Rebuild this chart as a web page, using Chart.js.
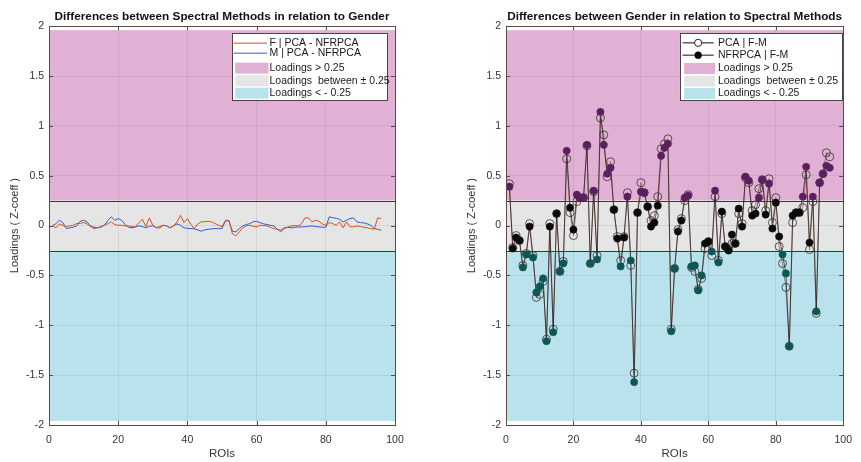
<!DOCTYPE html>
<html>
<head>
<meta charset="utf-8">
<script src="https://cdn.jsdelivr.net/npm/chart.js@4.4.1/dist/chart.umd.min.js"></script>
<style>
  html, body { margin: 0; padding: 0; background: #fff; }
  #wrap { position: relative; width: 861px; height: 462px; }
  canvas { position: absolute; top: 0; }
</style>
</head>
<body>
<div id="wrap">
  <canvas id="leftChart" width="430" height="462" style="left:0"></canvas>
  <canvas id="rightChart" width="431" height="462" style="left:430px"></canvas>
</div>
<script>
// ---- data ----
const xTicks = [0, 20, 40, 60, 80, 100];
const yTicks = [-2, -1.5, -1, -0.5, 0, 0.5, 1, 1.5, 2];
const threshold = 0.25;
const bandLimit = 1.96;

// left panel: PCA - NFRPCA difference per gender
const femaleDiff = [0.003, -0.023, 0.017, 0.003, -0.01, -0.003, 0.003, 0.02, 0.023, 0.03,
  0.017, -0.01, -0.03, -0.023, -0.017, 0.003, 0.02, 0.037, 0.01, 0.003,
  0.003, -0.003, -0.003, -0.01, -0.013, 0.03, 0.063, -0.01, 0.077, 0.003,
  -0.023, -0.01, 0.003, -0.003, -0.023, -0.003, 0.037, 0.103, 0.03, 0.07,
  0.01, -0.03, 0.017, 0.037, 0.04, 0.043, 0.037, 0.02, 0.003, -0.013,
  0.053, 0.053, -0.08, -0.103, -0.063, -0.023, -0.003, 0.003, -0.007, -0.013,
  0.003, 0, -0.003, -0.017, -0.03, -0.037, -0.063, -0.03, -0.017, -0.003,
  0, -0.003, 0.02, 0.077, 0.077, 0.037, 0.053, 0.043, 0.017, 0.003,
  0.03, 0.02, 0.003, 0.037, -0.023, 0.037, -0.013, -0.013, -0.003, -0.01,
  -0.017, -0.023, -0.03, -0.037, 0.077, 0.07];
const maleDiff = [-0.003, 0.02, 0.053, 0.03, -0.03, -0.023, -0.017, -0.003, 0.043, 0.053,
  0.037, -0.003, -0.017, -0.023, -0.01, 0.003, 0.053, 0.087, 0.053, 0.07,
  0.053, 0.01, -0.017, -0.023, -0.013, -0.003, -0.01, -0.023, -0.007, -0.003,
  -0.02, -0.023, 0.003, -0.003, -0.023, -0.003, 0.017, 0.003, -0.023, -0.027,
  -0.03, -0.033, -0.043, -0.057, -0.043, -0.037, -0.033, -0.03, -0.03, -0.03,
  0.047, 0.047, -0.057, -0.063, -0.03, -0.003, 0.01, 0.02, 0.037, 0.043,
  0.03, 0.017, 0.01, 0.003, -0.003, -0.037, -0.047, -0.023, -0.017, -0.023,
  -0.017, -0.013, -0.013, -0.013, -0.007, -0.003, -0.01, -0.013, -0.017, -0.017,
  0.087, 0.08, 0.073, 0.063, 0.037, 0.053, 0.07, 0.077, 0.037, 0.03,
  0.027, 0.017, 0.003, -0.03, -0.037, -0.047];

// right panel: F - M difference per spectral method
const pcaFM = [0.42, -0.22, -0.10, -0.15, -0.40, -0.28, 0.02, -0.30, -0.72, -0.69,
  -0.56, -1.14, 0.02, -1.04, 0.12, -0.46, -0.36, 0.67, 0.13, -0.10,
  0.24, 0.28, 0.28, 0.80, -0.38, 0.34, -0.30, 1.08, 0.91, 0.49,
  0.64, 0.16, -0.11, -0.35, -0.11, 0.33, -0.40, -1.48, 0.13, 0.43,
  0.33, 0.19, 0.05, 0.10, 0.29, 0.77, 0.82, 0.87, -1.04, -0.43,
  -0.04, 0.07, 0.25, 0.31, -0.42, -0.46, -0.64, -0.53, -0.23, -0.16,
  -0.30, 0.29, -0.35, 0.12, -0.21, -0.24, -0.18, -0.18, 0.12, 0.02,
  0.48, 0.43, 0.15, 0.21, 0.37, 0.46, 0.15, 0.47, 0.03, 0.28,
  -0.21, -0.38, -0.62, -1.21, 0.03, 0.13, 0.13, 0.18, 0.51, -0.24,
  0.24, -0.88, 0.43, 0.52, 0.73, 0.69];
const nfrpcaFM = [0.39, -0.23, -0.12, -0.15, -0.42, -0.29, -0.01, -0.32, -0.67, -0.61,
  -0.53, -1.16, -0.01, -1.07, 0.12, -0.46, -0.38, 0.75, 0.18, -0.04,
  0.31, 0.28, 0.28, 0.81, -0.38, 0.35, -0.34, 1.14, 0.81, 0.52,
  0.58, 0.16, -0.13, -0.41, -0.12, 0.29, -0.35, -1.57, 0.13, 0.34,
  0.33, 0.19, -0.01, 0.03, 0.20, 0.70, 0.78, 0.82, -1.06, -0.43,
  -0.06, 0.05, 0.28, 0.30, -0.41, -0.40, -0.65, -0.50, -0.18, -0.16,
  -0.26, 0.35, -0.37, 0.14, -0.21, -0.25, -0.09, -0.18, 0.17, -0.01,
  0.49, 0.45, 0.10, 0.12, 0.28, 0.46, 0.11, 0.42, -0.03, 0.23,
  -0.11, -0.29, -0.48, -1.21, 0.10, 0.13, 0.13, 0.29, 0.59, -0.17,
  0.29, -0.86, 0.43, 0.52, 0.60, 0.58];

const FONT = "'Liberation Sans', Arial, Helvetica, sans-serif";
const COL_HIGH = '#e0b1d5';
const COL_MID = '#e5e5e5';
const COL_LOW = '#b9e2ec';
const FRAME = '#5a4a42';

function toPoints(arr) {
  return arr.map((v, i) => ({ x: i + 1, y: v }));
}

function bandColor(v) {
  if (v > threshold) return '#5b1e5f';
  if (v < -threshold) return '#0d5656';
  return '#0a0a0a';
}

// bands, threshold lines, frame, inward ticks and the boxed legend
const matlabLook = {
  id: 'matlabLook',
  beforeDraw(chart) {
    const { ctx, chartArea: a, scales: { y } } = chart;
    const w = a.right - a.left;
    const band = (hi, lo, color) => {
      const y1 = y.getPixelForValue(hi), y2 = y.getPixelForValue(lo);
      ctx.fillStyle = color;
      ctx.fillRect(a.left, y1, w, y2 - y1);
    };
    ctx.save();
    band(bandLimit, threshold, COL_HIGH);
    band(threshold, -threshold, COL_MID);
    band(-threshold, -bandLimit, COL_LOW);
    ctx.restore();
  },
  beforeDatasetsDraw(chart) {
    const { ctx, chartArea: a, scales: { y } } = chart;
    ctx.save();
    ctx.strokeStyle = '#3d3535';
    ctx.lineWidth = 1;
    [threshold, -threshold].forEach(t => {
      const py = Math.round(y.getPixelForValue(t)) + 0.5;
      ctx.beginPath();
      ctx.moveTo(a.left, py);
      ctx.lineTo(a.right, py);
      ctx.stroke();
    });
    ctx.restore();
  },
  afterDatasetsDraw(chart, args, opts) {
    const { ctx, chartArea: a, scales: { x, y } } = chart;
    ctx.save();
    // frame
    ctx.strokeStyle = FRAME;
    ctx.lineWidth = 1;
    ctx.strokeRect(Math.round(a.left) + 0.5, Math.round(a.top) + 0.5,
      Math.round(a.right - a.left), Math.round(a.bottom - a.top));
    // inward ticks
    ctx.beginPath();
    xTicks.forEach(t => {
      const px = Math.round(x.getPixelForValue(t)) + 0.5;
      ctx.moveTo(px, a.top); ctx.lineTo(px, a.top + 4);
      ctx.moveTo(px, a.bottom); ctx.lineTo(px, a.bottom - 4);
    });
    yTicks.forEach(t => {
      const py = Math.round(y.getPixelForValue(t)) + 0.5;
      ctx.moveTo(a.left, py); ctx.lineTo(a.left + 4, py);
      ctx.moveTo(a.right, py); ctx.lineTo(a.right - 4, py);
    });
    ctx.stroke();

    // legend box
    const L = opts.legend;
    const bx = a.right - L.right - L.width, by = a.top + L.top;
    ctx.fillStyle = '#fff';
    ctx.fillRect(bx, by, L.width, L.height);
    ctx.strokeStyle = '#4a4444';
    ctx.strokeRect(Math.round(bx) + 0.5, Math.round(by) + 0.5, L.width, L.height);
    ctx.font = '10.5px ' + FONT;
    ctx.textBaseline = 'middle';
    ctx.textAlign = 'left';
    L.items.forEach((it, i) => {
      const cy = by + L.rows[i];
      if (it.kind === 'patch') {
        ctx.fillStyle = it.color;
        ctx.fillRect(bx + L.swatch[0] + 1.5, cy - 5.5, L.swatch[1] - L.swatch[0], 11);
      } else {
        ctx.strokeStyle = it.color;
        ctx.lineWidth = 1;
        ctx.beginPath();
        ctx.moveTo(bx + L.swatch[0], cy);
        ctx.lineTo(bx + L.swatch[1], cy);
        ctx.stroke();
        if (it.marker) {
          const mx = bx + (L.swatch[0] + L.swatch[1]) / 2;
          ctx.beginPath();
          ctx.arc(mx, cy, 3.6, 0, Math.PI * 2);
          if (it.marker === 'filled') {
            ctx.fillStyle = '#000';
            ctx.fill();
          } else {
            ctx.fillStyle = '#fff';
            ctx.fill();
            ctx.strokeStyle = '#222';
            ctx.stroke();
          }
        }
      }
      ctx.fillStyle = '#1a1a1a';
      ctx.fillText(it.text, bx + L.textX, cy);
    });
    ctx.restore();
  }
};

function makeChart(id, title, datasets, legend, padLeft, padRight) {
  return new Chart(document.getElementById(id), {
    type: 'scatter',
    data: { datasets: datasets },
    options: {
      responsive: false,
      animation: false,
      events: [],
      layout: { padding: { left: padLeft, right: padRight, top: 0, bottom: 0 } },
      plugins: {
        legend: { display: false },
        tooltip: { enabled: false },
        title: {
          display: true,
          text: title,
          fullSize: false,
          color: '#111',
          font: { family: FONT, size: 11.8, weight: 'bold' },
          padding: { top: 10, bottom: 2 }
        },
        matlabLook: { legend: legend }
      },
      scales: {
        x: {
          type: 'linear',
          min: 0, max: 100,
          afterBuildTicks: s => { s.ticks = xTicks.map(v => ({ value: v })); },
          afterFit: s => { s.height = 37; },
          grid: { color: 'rgba(70,70,70,0.10)', drawTicks: false },
          border: { display: false },
          ticks: { color: '#333', padding: 9, font: { family: FONT, size: 10.5 },
            callback: v => String(v) },
          title: {
            display: true, text: 'ROIs', color: '#333',
            font: { family: FONT, size: 11.5 },
            padding: { top: 0, bottom: 1 }
          }
        },
        y: {
          min: -2, max: 2,
          afterBuildTicks: s => { s.ticks = yTicks.map(v => ({ value: v })); },
          afterFit: s => { s.width = 49; },
          grid: { color: 'rgba(70,70,70,0.10)', drawTicks: false },
          border: { display: false },
          ticks: { color: '#333', padding: 5, font: { family: FONT, size: 10.5 },
            callback: v => String(v) },
          title: {
            display: true, text: 'Loadings ( Z-coeff )', color: '#333',
            font: { family: FONT, size: 11 },
            padding: { top: 8, bottom: 0 }
          }
        }
      }
    },
    plugins: [matlabLook]
  });
}

const bandItems = [
  { kind: 'patch', color: COL_HIGH, text: 'Loadings > 0.25' },
  { kind: 'patch', color: COL_MID, text: 'Loadings  between \u00B1 0.25' },
  { kind: 'patch', color: COL_LOW, text: 'Loadings < - 0.25' }
];

makeChart('leftChart', 'Differences between Spectral Methods in relation to Gender', [
  {
    label: 'F | PCA - NFRPCA', data: toPoints(femaleDiff), showLine: true,
    borderColor: '#d95319', borderWidth: 1, pointRadius: 0, tension: 0
  },
  {
    label: 'M | PCA - NFRPCA', data: toPoints(maleDiff), showLine: true,
    borderColor: '#2f5fc4', borderWidth: 1, pointRadius: 0, tension: 0
  }
], {
  width: 155, height: 67, right: 8, top: 7,
  rows: [10, 20, 35, 47.7, 60], swatch: [1.7, 35], textX: 37.5,
  items: [
    { kind: 'line', color: '#d95319', text: 'F | PCA - NFRPCA' },
    { kind: 'line', color: '#2f5fc4', text: 'M | PCA - NFRPCA' }
  ].concat(bandItems)
}, 0, 35);

makeChart('rightChart', 'Differences between Gender in relation to Spectral Methods', [
  {
    label: 'NFRPCA | F-M', data: toPoints(nfrpcaFM), showLine: true, order: 0,
    borderColor: '#1c1c1c', borderWidth: 0.7, tension: 0,
    pointRadius: 3.6, pointBorderWidth: 0.6,
    pointBackgroundColor: c => bandColor(c.raw ? c.raw.y : 0),
    pointBorderColor: c => bandColor(c.raw ? c.raw.y : 0)
  },
  {
    label: 'PCA | F-M', data: toPoints(pcaFM), showLine: true, order: 1,
    borderColor: '#8a4a3f', borderWidth: 0.7, tension: 0,
    pointRadius: 4, pointBorderWidth: 0.8,
    pointBackgroundColor: 'rgba(0,0,0,0)', pointBorderColor: '#3a3030'
  }
], {
  width: 162, height: 67, right: 1.3, top: 7,
  rows: [9.7, 22, 35.3, 48, 60.3], swatch: [2.7, 33.7], textX: 38,
  items: [
    { kind: 'line', color: '#111', marker: 'open', text: 'PCA | F-M' },
    { kind: 'line', color: '#111', marker: 'filled', text: 'NFRPCA | F-M' }
  ].concat(bandItems)
}, 27, 9);
</script>
</body>
</html>
